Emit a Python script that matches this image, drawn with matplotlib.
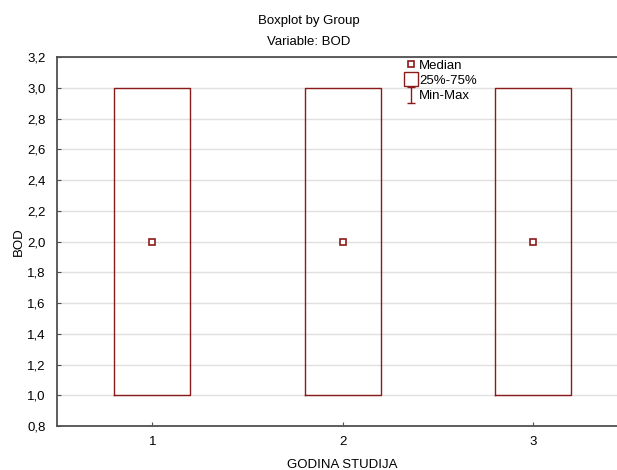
import matplotlib
matplotlib.use("Agg")
import matplotlib.pyplot as plt
from matplotlib.lines import Line2D
from matplotlib.path import Path

plt.rcParams['font.family'] = ['Liberation Sans', 'DejaVu Sans']

# Data
groups = [1, 2, 3]
medians = [2.0, 2.0, 2.0]
q1 = [1.0, 1.0, 1.0]
q3 = [3.0, 3.0, 3.0]
mins = [1.0, 1.0, 1.0]
maxs = [3.0, 3.0, 3.0]
y_ticks = [0.8, 1.0, 1.2, 1.4, 1.6, 1.8, 2.0, 2.2, 2.4, 2.6, 2.8, 3.0, 3.2]

box_color = '#8b1a1a'
spine_color = '#505050'
fs = 9.5

fig = plt.figure(figsize=(6.17, 4.70), dpi=100)
ax = fig.add_axes([0.0924, 0.0936, 0.926, 0.7851])

stats = []
for g, med, lo, hi, mn, mx in zip(groups, medians, q1, q3, mins, maxs):
    stats.append(dict(label=str(g), med=med, q1=lo, q3=hi, whislo=mn, whishi=mx))

ax.bxp(stats, positions=groups, widths=0.4, showfliers=False, showcaps=False,
       boxprops=dict(color=box_color, linewidth=1.0),
       whiskerprops=dict(color=box_color, linewidth=1.0),
       medianprops=dict(linestyle='none'))

# median markers
ax.plot(groups, medians, linestyle='none', marker='s', markersize=5,
        markerfacecolor='white', markeredgecolor=box_color, markeredgewidth=1.2, zorder=5)

ax.set_xlim(0.5, 3.5)
ax.set_ylim(0.8, 3.2)
ax.set_yticks(y_ticks)
ax.set_yticklabels([f"{v:.1f}".replace('.', ',') for v in y_ticks])
ax.set_xticks(groups)
ax.set_xticklabels([str(g) for g in groups])

ax.grid(axis='y', color='#e0e0e0', linewidth=1.0, zorder=0)
ax.set_axisbelow(True)
ax.tick_params(axis='both', labelsize=fs, color=spine_color, length=3, direction='in', pad=7)
ax.tick_params(axis='y', pad=8)

for side in ['left', 'bottom', 'top']:
    ax.spines[side].set_color(spine_color)
    ax.spines[side].set_linewidth(1.3)
ax.spines['right'].set_visible(False)

ax.set_xlabel('GODINA STUDIJA', fontsize=fs, labelpad=8)
ax.set_ylabel('BOD', fontsize=fs, labelpad=2)

fig.text(0.5, 0.955, 'Boxplot by Group', ha='center', va='center', fontsize=fs)
fig.text(0.5, 0.911, 'Variable: BOD', ha='center', va='center', fontsize=fs)

# legend
ibar = Path([(-0.5, -1), (0.5, -1), (0, -1), (0, 1), (-0.5, 1), (0.5, 1)],
            [Path.MOVETO, Path.LINETO, Path.MOVETO, Path.LINETO, Path.MOVETO, Path.LINETO])
handles = [
    Line2D([0], [0], linestyle='none', marker='s', markersize=4,
           markerfacecolor='white', markeredgecolor=box_color, markeredgewidth=1.2),
    Line2D([0], [0], linestyle='none', marker='s', markersize=10,
           markerfacecolor='white', markeredgecolor=box_color, markeredgewidth=1.0),
    Line2D([0], [0], linestyle='none', marker=ibar, markersize=11,
           markerfacecolor='none', markeredgecolor=box_color, markeredgewidth=1.0),
]
leg = ax.legend(handles, ['Median', '25%-75%', 'Min-Max'], loc='upper left',
                bbox_to_anchor=(0.594, 1.018), frameon=False, fontsize=fs,
                handlelength=0.8, handletextpad=0.2, labelspacing=0.22,
                borderpad=0.2)
leg.set_zorder(10)

fig.savefig('out.png', dpi=100)
